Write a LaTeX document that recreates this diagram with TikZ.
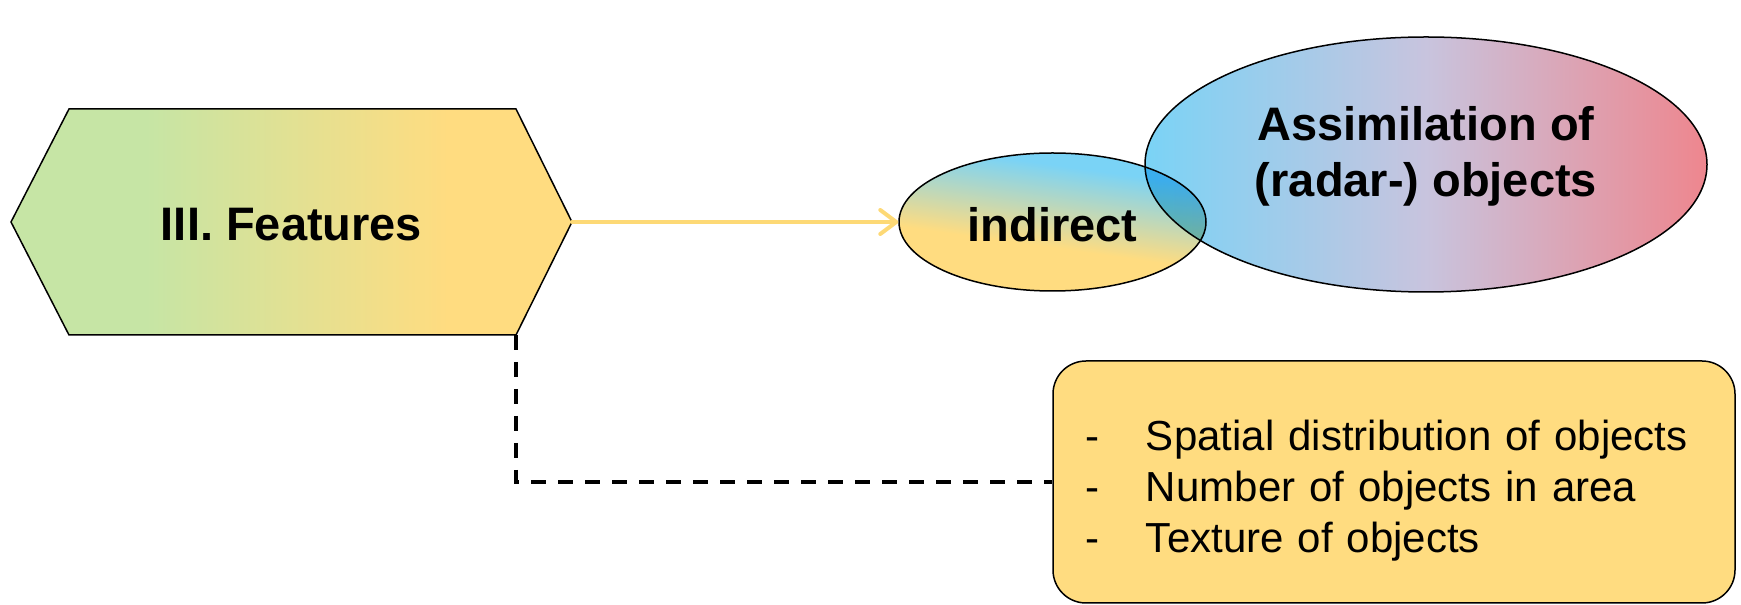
\documentclass[tikz,border=0pt]{standalone}
\usepackage{fontspec}
\setmainfont{Liberation Sans}
\usetikzlibrary{shapes.geometric,arrows.meta}

\definecolor{leafgreen}{HTML}{C6E5A5}
\definecolor{sand}{HTML}{FFDC80}
\definecolor{sky}{HTML}{7AD3F6}
\definecolor{lilac}{HTML}{C8C4DE}
\definecolor{rose}{HTML}{EE868E}
\definecolor{wire}{HTML}{FDD976}

% green-to-gold fill of the hexagon
\pgfdeclarehorizontalshading{hexfill}{100bp}{color(0bp)=(leafgreen); color(37bp)=(leafgreen); color(64bp)=(sand); color(100bp)=(sand)}
% gold-to-blue fill of the small ellipse
\pgfdeclareverticalshading{twotone}{100bp}{color(0bp)=(sand); color(42bp)=(sand); color(68bp)=(sky); color(100bp)=(sky)}

% shift content vertically while keeping its box size
\newcommand{\nudge}[2]{\raisebox{#1}[\height][\depth]{#2}}

\begin{document}
\begin{tikzpicture}[x=1pt,y=1pt,
  outline/.style={draw=black, line width=1.5pt},
  title/.style={font=\fontsize{47}{56}\selectfont\bfseries, text=black},
  oval/.style={ellipse, inner sep=0pt, outline, title},
  feed/.style={draw=wire, line width=4pt, line cap=round,
               -{Straight Barb[length=16pt,width=24pt,round]}},
  link/.style={draw=black, line width=3.5pt, dash pattern=on 15pt off 12pt},
  listbox/.style={outline, fill=sand, rounded corners=33pt,
                  minimum width=682pt, minimum height=242pt,
                  text width=618pt, inner xsep=32pt, align=left,
                  font=\fontsize{42}{51}\selectfont}]
\useasboundingbox (0,0) rectangle (1741,605);

% hexagon "III. Features"
\coordinate (hexE) at (572,383);
\coordinate (hexSE) at (516,270);
\shadedraw[shading=hexfill, outline]
  (11,383) -- (69,496) -- (516,496) -- (hexE) -- (hexSE) -- (69,270) -- cycle;
\node[title] (hex) at (291.5,383) {\nudge{-3pt}{III. Features}};

% small ellipse
\node[oval, minimum width=307pt, minimum height=138pt,
      shade, shading=twotone, shading angle=-8] (near) at (1052.5,383)
  {\nudge{-3pt}{indirect}};

% large ellipse, multiplied over the small one
\begin{scope}[blend mode=multiply]
\node[oval, minimum width=562pt, minimum height=255pt,
      left color=sky, right color=rose, middle color=lilac] (assim) at (1426,440.5)
  {\nudge{7pt}{\begin{tabular}{@{}c@{}}Assimilation of\\(radar-) objects\end{tabular}}};
\end{scope}

% list box
\node[listbox] (list) at (1394,123)
  {\nudge{-9pt}{\begin{tabular}{@{}l@{}}
   \makebox[61pt][l]{-}Spatial distribution of objects\\
   \makebox[61pt][l]{-}Number of objects in area\\
   \makebox[61pt][l]{-}Texture of objects
   \end{tabular}}};

% connectors
\draw[feed] (hexE) -- (near.west);
\draw[link] (hexSE) |- (list.west);
\end{tikzpicture}
\end{document}
